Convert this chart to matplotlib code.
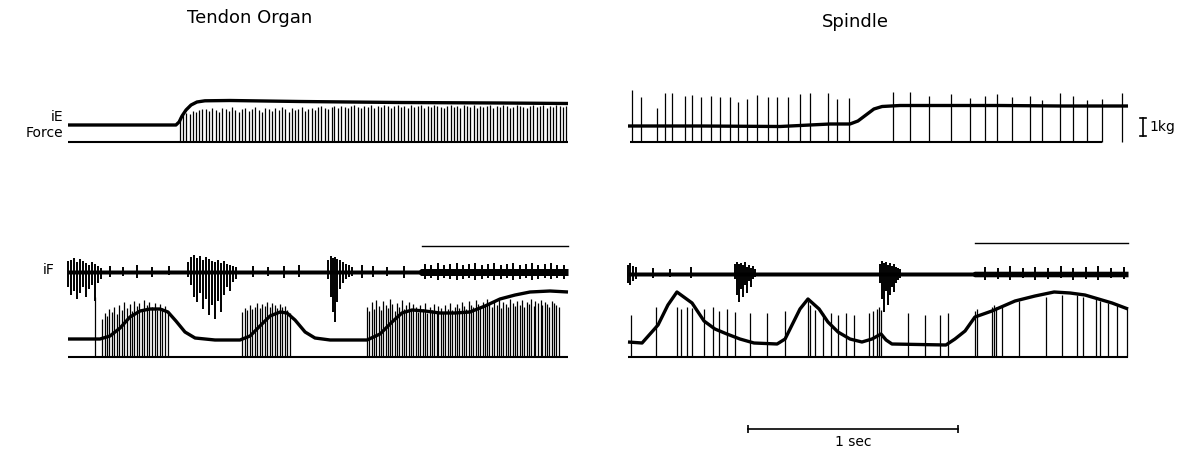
import numpy as np
import matplotlib
matplotlib.use("Agg")
import matplotlib.pyplot as plt

W, H = 1199, 453
MS_PER_PX = 1000.0 / 210.0   # 1 sec bar is 210 px long
KG = 18                      # trace units per kg (height of the 1 kg bar)

# ---------------- Tendon organ, iE (top left) ----------------
# force trace (time ms, height above spike baseline)
tl_force_t = [0, 152, 390, 514, 529, 543, 562, 586, 614, 652, 771, 1105, 1581, 2057, 2381]
tl_force_v = [17, 17, 17, 17, 20, 26, 32, 37, 40, 41.2, 41.5, 40.5, 39.5, 39, 38.5]
tl_spike_t = [533, 547, 564, 579, 593, 610, 626, 640, 657, 673, 688, 703, 720, 735, 751, 768,
              782, 797, 815, 830, 845, 862, 877, 891, 908, 924, 939, 956, 971, 986, 1003, 1019,
              1033, 1050, 1066, 1080, 1097, 1113, 1128, 1145, 1160, 1175, 1192, 1207, 1222, 1239,
              1255, 1269, 1286, 1302, 1317, 1334, 1349, 1364, 1381, 1397, 1411, 1428, 1444, 1459,
              1476, 1491, 1506, 1523, 1538, 1553, 1570, 1586, 1600, 1617, 1633, 1648, 1665, 1680,
              1695, 1712, 1727, 1742, 1759, 1775, 1789, 1806, 1822, 1837, 1854, 1869, 1884, 1901,
              1916, 1931, 1948, 1964, 1978, 1995, 2011, 2026, 2043, 2058, 2073, 2090, 2105, 2120,
              2137, 2153, 2167, 2184, 2200, 2215, 2232, 2247, 2262, 2279, 2294, 2309, 2326, 2342,
              2356, 2373]
tl_spike_top = [25, 27, 29, 28, 31, 30, 32, 33, 33, 31, 34, 32, 30, 34, 33, 31, 35, 32, 30, 33,
                34, 31, 33, 35, 32, 30, 34, 33, 31, 34, 32, 35, 33, 30, 34, 32, 33, 35, 31, 33,
                34, 32, 35, 36, 34, 33, 35, 36, 34, 36, 35, 34, 36, 37, 35, 34, 36, 35, 37, 34,
                36, 35, 37, 36, 34, 36, 37, 35, 36, 34, 37, 35, 36, 37, 34, 36, 35, 37, 36, 35,
                34, 36, 37, 35, 36, 34, 37, 36, 35, 37, 34, 36, 35, 36, 37, 34, 36, 35, 37, 36,
                34, 35, 37, 36, 35, 34, 36, 37, 35, 36, 37, 34, 36, 35, 37, 36, 35, 36]

# ---------------- Spindle, iE (top right) ----------------
tr_force_t = [0, 343, 724, 867, 962, 1057, 1095, 1133, 1171, 1210, 1295, 1771, 2057, 2381]
tr_force_v = [16, 16, 15.5, 17, 18, 18, 21, 27, 33, 35.5, 36.5, 36.5, 36, 36]
tr_spike_t = [19, 62, 138, 176, 210, 271, 305, 348, 395, 438, 486, 524, 567, 614, 667, 710,
              762, 819, 867, 952, 995, 1052, 1262, 1343, 1433, 1538, 1629, 1700, 1757, 1829,
              1914, 1971, 2057, 2119, 2186, 2257, 2352]
tr_spike_top = [52, 45, 34, 49, 49, 46, 47, 45, 46, 45, 45, 40, 43, 47, 45, 45, 45, 48, 49,
                49, 43, 44, 50, 50, 46, 48, 44, 46, 48, 45, 46, 42, 49, 46, 42, 43, 49]
tr_base_end = 2257

# ---------------- Tendon organ, iF (bottom left) ----------------
bl_force_t = [0, 152, 200, 248, 295, 343, 390, 438, 476, 514, 557, 605, 700, 819, 867, 914,
              962, 1010, 1043, 1081, 1129, 1176, 1248, 1424, 1486, 1543, 1590, 1638, 1700, 1771,
              1843, 1914, 1986, 2057, 2129, 2200, 2295, 2381]
bl_force_v = [18, 18, 21, 29, 40, 46, 48, 48, 45, 36, 25, 19, 17, 17, 21, 31, 41, 45, 44, 37,
              25, 19, 17, 17, 23, 35, 44, 47, 46, 44, 44, 45, 51, 58, 62, 65, 66, 65]
bl_spike_t = [129,
              162, 174, 186, 197, 210, 221, 233, 245, 257, 269, 281, 293, 305, 316, 328, 340,
              352, 364, 376, 388, 400, 412, 424, 436, 448, 462, 476,
              829, 841, 853, 865, 877, 889, 901, 913, 925, 937, 949, 961, 973, 985, 997, 1009,
              1021, 1033, 1045, 1057,
              1424, 1434, 1447, 1457, 1466, 1479, 1491, 1500, 1512, 1524, 1533, 1545, 1557, 1566,
              1578, 1590, 1599, 1611, 1623, 1632, 1645, 1656, 1665, 1677, 1689, 1698, 1710, 1722,
              1731, 1744, 1755, 1764, 1776, 1788, 1797, 1809, 1821, 1830, 1843, 1854, 1863, 1875,
              1887, 1896, 1908, 1920, 1929, 1942, 1953, 1962, 1974, 1986, 1995, 2007, 2019, 2028,
              2041, 2052, 2061, 2073, 2085, 2094, 2106, 2118, 2127, 2140, 2151, 2160, 2172, 2184,
              2193, 2205, 2217, 2226, 2239, 2250, 2259, 2271, 2283, 2292, 2304, 2316, 2325, 2338,
              2349, 2358, 2370, 2381]
bl_spike_top = [60,
                38, 44, 41, 48, 45, 50, 43, 52, 47, 55, 49, 53, 46, 56, 51, 54, 48, 57, 52, 55,
                50, 54, 47, 53, 49, 51, 45,
                45, 49, 47, 52, 48, 50, 54, 49, 53, 51, 55, 50, 54, 52, 49, 53, 50, 51, 47, 44,
                50, 46, 55, 48, 57, 51, 47, 56, 52, 49, 58, 53, 46, 54, 50, 57, 48, 52, 55, 47,
                53, 50, 45, 52, 48, 54, 44, 50, 47, 53, 46, 51, 49, 45, 52, 48, 54, 47, 50, 53,
                49, 55, 51, 48, 56, 52, 50, 57, 53, 49, 55, 51, 58, 54, 50, 56, 52, 57, 49, 55,
                53, 50, 58, 54, 51, 56, 52, 57, 50, 55, 53, 58, 51, 56, 54, 57, 52, 55, 53, 50,
                56, 54, 52, 50]
# EMG: centre line, noise half-width, and individual deflections (t, low, high)
bl_emg_level = 85
bl_emg_env_t = [0, 1670, 1680, 2381]
bl_emg_env_w = [2.0, 2.0, 3.5, 3.5]
bl_emg_t = [0, 14, 29, 43, 57, 71, 86, 100, 114, 129, 143, 157,
            571, 586, 600, 614, 629, 643, 657, 671, 686, 700, 714, 729, 743, 757, 771, 786, 800,
            1238, 1252, 1262, 1271, 1281, 1295, 1309, 1324, 1338, 1352,
            200, 260, 330, 400, 480, 880, 950, 1030, 1100, 1400, 1450, 1520, 1600, 1700, 1730,
            1760, 1790, 1820, 1850, 1880, 1910, 1940, 1970, 2000, 2030, 2060, 2090, 2120, 2150,
            2180, 2210, 2240, 2270, 2300, 2330, 2360]
bl_emg_lo = [70, 62, 66, 58, 64, 70, 60, 68, 72, 56, 74, 78,
             80, 72, 60, 55, 64, 48, 58, 42, 52, 38, 56, 45, 62, 70, 66, 75, 78,
             78, 60, 45, 35, 55, 68, 74, 78, 80, 81,
             80, 81, 79, 80, 82, 80, 81, 79, 80, 79, 80, 81, 79, 78, 79, 77, 79, 78, 77, 78, 79,
             77, 78, 79, 77, 78, 79, 77, 78, 79, 77, 78, 79, 78, 79, 78]
bl_emg_hi = [96, 97, 99, 95, 98, 96, 94, 92, 95, 93, 91, 89,
             95, 100, 102, 99, 101, 97, 100, 98, 96, 95, 97, 94, 96, 93, 92, 91, 90,
             97, 101, 99, 100, 98, 97, 95, 93, 92, 90,
             91, 90, 92, 90, 91, 91, 90, 91, 92, 92, 91, 90, 91, 93, 92, 94, 92, 93, 94, 92, 93,
             94, 92, 93, 94, 92, 93, 94, 92, 93, 94, 92, 93, 94, 92, 92]
bl_marker = (1686, 2381, 111)

# ---------------- Spindle, iF (bottom right) ----------------
br_force_t = [0, 67, 143, 190, 233, 305, 362, 414, 471, 533, 600, 710, 748, 781, 819, 857, 910,
              952, 1000, 1057, 1114, 1162, 1205, 1229, 1257, 1514, 1557, 1605, 1652, 1733, 1843,
              1938, 2029, 2105, 2176, 2305, 2381]
br_force_v = [15, 14, 32, 52, 65, 54, 36, 28, 23, 18, 14, 13, 18, 32, 48, 58, 48, 35, 25, 18,
              15, 18, 23, 17, 13, 12, 18, 26, 40, 46, 56, 61, 65, 64, 62, 54, 48]
br_spike_t = [14, 133, 233, 252, 281, 305, 362, 405, 433, 471, 510, 581, 662, 748, 857, 867,
              890, 929, 967, 1000, 1038, 1076, 1148, 1167, 1186, 1195, 1205, 1333, 1414, 1486,
              1524, 1652, 1662, 1733, 1743, 1752, 1781, 1862, 1990, 2067, 2138, 2167, 2229, 2248,
              2286, 2329, 2376]
br_spike_top = [42, 50, 50, 48, 50, 49, 48, 50, 46, 48, 45, 44, 44, 46, 56, 52, 47, 44, 44, 42,
                44, 42, 44, 46, 48, 50, 47, 44, 42, 42, 44, 46, 48, 50, 52, 50, 52, 56, 60, 62,
                62, 60, 58, 56, 54, 52, 50]
br_emg_level = 83
br_emg_env_t = [0, 1640, 1650, 2381]
br_emg_env_w = [2.0, 2.0, 2.8, 2.8]
br_emg_t = [0, 10, 24, 40, 120, 200, 300,
            509, 519, 528, 538, 548, 557, 567, 576, 586, 595, 605,
            1200, 1210, 1219, 1229, 1238, 1248, 1257, 1267, 1276, 1286, 1295,
            1700, 1760, 1820, 1880, 1940, 2000, 2060, 2120, 2180, 2240, 2300, 2360]
br_emg_lo = [74, 72, 76, 78, 79, 80, 79,
             78, 62, 55, 68, 60, 72, 64, 76, 70, 78, 80,
             74, 58, 45, 66, 52, 62, 70, 65, 74, 77, 79,
             77, 78, 77, 79, 77, 78, 79, 77, 78, 77, 79, 78]
br_emg_hi = [92, 94, 91, 90, 89, 88, 90,
             93, 95, 93, 94, 92, 95, 90, 92, 89, 91, 88,
             93, 96, 94, 95, 92, 94, 91, 93, 90, 89, 88,
             90, 89, 91, 89, 90, 89, 91, 89, 90, 91, 89, 90]
br_marker = (1652, 2381, 114)

fig = plt.figure(figsize=(W / 100, H / 100), dpi=100)


def panel(left, top, width, height, base):
    # box given in pixels; trace time 0 sits 10 px in from the left edge,
    # 'base' is the pixel row of the spike baseline (height 0)
    ax = fig.add_axes([left / W, 1 - (top + height) / H, width / W, height / H])
    ax.set_xlim(-10 * MS_PER_PX, (width - 10) * MS_PER_PX)
    ax.set_ylim(base - (top + height), base - top)
    ax.axis("off")
    return ax


def draw_spikes(ax, t, top, t_end, base_start=0):
    n = min(len(t), len(top))
    ax.vlines(t[:n], 0, top[:n], color="k", lw=0.9)
    ax.plot([base_start, t_end], [0, 0], color="k", lw=1.5, solid_capstyle="butt")


def draw_emg(ax, level, env_t, env_w, t, lo, hi, marker):
    env_t = np.array(env_t)
    env_w = np.array(env_w)
    ax.fill_between(env_t, level - env_w, level + env_w, color="k", lw=0)
    ax.vlines(t, lo, hi, color="k", lw=1.4)
    ax.plot(marker[:2], [marker[2], marker[2]], color="k", lw=1.0)


ax_tl = panel(58, 80, 530, 70, 142)
draw_spikes(ax_tl, tl_spike_t, tl_spike_top, 2381)
ax_tl.plot(tl_force_t, tl_force_v, color="k", lw=2.4, solid_capstyle="butt")

ax_tr = panel(618, 80, 570, 70, 142)
draw_spikes(ax_tr, tr_spike_t, tr_spike_top, tr_base_end, base_start=10)
ax_tr.plot(tr_force_t, tr_force_v, color="k", lw=2.4, solid_capstyle="butt")
# 1 kg calibration bar
kg_t = (1143 - 628) * MS_PER_PX
ax_tr.plot([kg_t, kg_t], [6, 6 + KG], color="k", lw=1.2)
ax_tr.plot([kg_t - 14, kg_t + 14], [6, 6], color="k", lw=1.2)
ax_tr.plot([kg_t - 14, kg_t + 14], [6 + KG, 6 + KG], color="k", lw=1.2)
ax_tr.text(kg_t + 30, 6 + KG / 2, "1kg", fontsize=10, va="center", ha="left")

ax_bl = panel(58, 230, 530, 135, 357)
draw_spikes(ax_bl, bl_spike_t, bl_spike_top, 2381)
ax_bl.plot(bl_force_t, bl_force_v, color="k", lw=2.4, solid_capstyle="butt")
draw_emg(ax_bl, bl_emg_level, bl_emg_env_t, bl_emg_env_w, bl_emg_t, bl_emg_lo, bl_emg_hi, bl_marker)

ax_br = panel(618, 230, 570, 135, 357)
draw_spikes(ax_br, br_spike_t, br_spike_top, 2381)
ax_br.plot(br_force_t, br_force_v, color="k", lw=2.4, solid_capstyle="butt")
draw_emg(ax_br, br_emg_level, br_emg_env_t, br_emg_env_w, br_emg_t, br_emg_lo, br_emg_hi, br_marker)

# 1 sec time bar
ax_sc = panel(618, 410, 570, 43, 429)
sec_t0 = (748 - 628) * MS_PER_PX
ax_sc.plot([sec_t0, sec_t0 + 1000], [0, 0], color="k", lw=1.2)
ax_sc.vlines([sec_t0, sec_t0 + 1000], -4, 4, color="k", lw=1.2)
ax_sc.text(sec_t0 + 500, -13, "1 sec", fontsize=10, ha="center", va="center")

fig.text(250 / W, 1 - 18 / H, "Tendon Organ", fontsize=13, ha="center", va="center")
fig.text(855 / W, 1 - 22 / H, "Spindle", fontsize=13, ha="center", va="center")
fig.text(63 / W, 1 - 117 / H, "iE", fontsize=10, ha="right", va="center")
fig.text(63 / W, 1 - 133 / H, "Force", fontsize=10, ha="right", va="center")
fig.text(55 / W, 1 - 270 / H, "iF", fontsize=10, ha="right", va="center")

fig.savefig("out.png", dpi=100)
